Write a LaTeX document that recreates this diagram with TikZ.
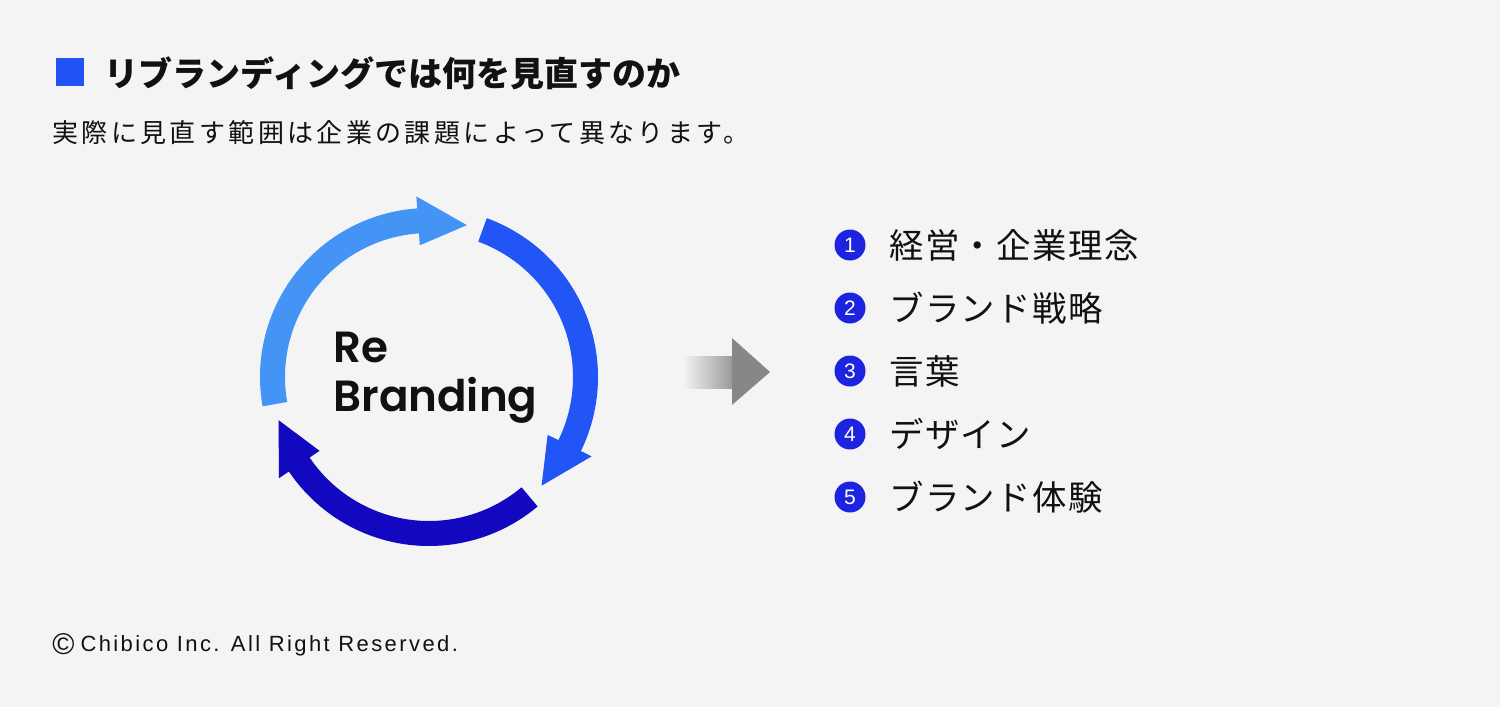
\documentclass[tikz,border=0pt]{standalone}
\usepackage{fontspec}
\setmainfont{Liberation Sans}
\newfontfamily\jp{Noto Sans CJK JP}
\newfontfamily\jpsp[LetterSpace=13]{Noto Sans CJK JP}
\newfontfamily\jplist[LetterSpace=4]{Noto Sans CJK JP}
\newfontfamily\pop[UprightFont=*-SemiBold]{Poppins}
\newfontfamily\copyfont[LetterSpace=11]{Liberation Sans}
\usetikzlibrary{shadings}
\definecolor{bg}{HTML}{F4F4F4}
\definecolor{lightarc}{HTML}{4494F6}
\definecolor{midarc}{HTML}{2255F5}
\definecolor{darkarc}{HTML}{1208BF}
\definecolor{sq}{HTML}{2152F5}
\definecolor{numc}{HTML}{1C24E0}
\definecolor{grayarr}{HTML}{878787}
\definecolor{txt}{HTML}{111111}
\tikzset{
  numcircle/.style={circle, fill=numc, minimum size=15.5pt, inner sep=0, text=white, font=\fontsize{10.5}{10.5}\selectfont},
  item/.style={anchor=west, inner sep=0, text=txt, font=\jplist\fontsize{17.2}{17.2}\selectfont},
  rb/.style={anchor=base west, inner sep=0, text=txt, font=\pop\fontsize{21.8}{21.8}\selectfont},
}
\begin{document}
\begin{tikzpicture}[x=0.5pt, y=-0.5pt]
\fill[bg] (0,0) rectangle (1500,707);
\useasboundingbox (0,0) rectangle (1500,707);
% title
\fill[sq] (56,58) rectangle (84,86);
\node[anchor=west, inner sep=0, text=txt, font=\jp\bfseries\fontsize{17}{17}\selectfont] (title) at (104,73) {リブランディングでは何を見直すのか};
\node[anchor=west, inner sep=0, text=txt, font=\jpsp\fontsize{13}{13}\selectfont] (sub) at (52,133) {実際に見直す範囲は企業の課題によって異なります。};
% cycle
\begin{scope}[shift={(429,377)}, yscale=-1]
\fill[lightarc] (190:169) arc[start angle=190, end angle=94, radius=169] -- (94:181) -- (76:156.5) -- (94:132) -- (94:144) arc[start angle=94, end angle=190, radius=144] -- cycle;
\fill[midarc] (70:169) arc[start angle=70, end angle=-26, radius=169] -- (-26:181) -- (-44:156.5) -- (-26:132) -- (-26:144) arc[start angle=-26, end angle=70, radius=144] -- cycle;
\fill[darkarc] (-50:169) arc[start angle=-50, end angle=-146, radius=169] -- (-146:181) -- (-164:156.5) -- (-146:132) -- (-146:144) arc[start angle=-146, end angle=-50, radius=144] -- cycle;
\end{scope}
\node[rb] (re) at (333,362) {Re};
\node[rb] (br) at (333,411) {Branding};
% gray arrow
\shade[left color=bg, right color=grayarr!85] (683,356) rectangle (733,388);
\fill[grayarr] (732,338) -- (770,372) -- (732,405) -- cycle;
% list
\foreach \i/\t [count=\k] in {1/経営・企業理念, 2/ブランド戦略, 3/言葉, 4/デザイン, 5/ブランド体験}{
  \node[numcircle] (n\k) at (850,{245+63*(\k-1)}) {\i};
  \node[item] (t\k) at (889,{245+63*(\k-1)}) {\t};
}
\node[anchor=west, inner sep=0, text=txt, font=\copyfont\fontsize{11}{11}\selectfont] (copy) at (52,645) {\raisebox{-0.12em}{\fontsize{15}{15}\selectfont ©}\hspace{3pt}Chibico Inc. All Right Reserved.};
\end{tikzpicture}
\end{document}
